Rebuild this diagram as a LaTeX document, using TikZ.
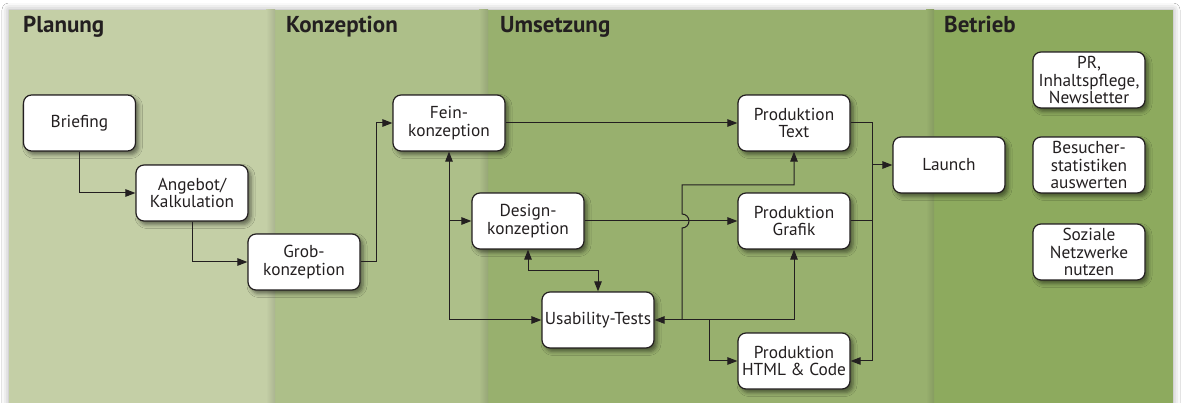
\documentclass[tikz,border=0pt]{standalone}
\usepackage{fontspec}
\setmainfont{PT Sans}
\usetikzlibrary{arrows.meta,shadows.blur,calc}
\definecolor{cPlan}{RGB}{196,207,166}
\definecolor{cKon}{RGB}{173,191,137}
\definecolor{cUms}{RGB}{152,176,110}
\definecolor{cBet}{RGB}{141,170,94}
\definecolor{ink}{RGB}{35,31,32}
\begin{document}
\begin{tikzpicture}[x=1pt,y=-1pt,
  box/.style={draw=ink, line width=1.2pt, fill=white, rounded corners=8pt,
    minimum width=112pt, minimum height=56pt, align=center, text=ink,
    font=\fontsize{17.3}{17.5}\selectfont, inner sep=2pt,
    blur shadow={shadow xshift=3pt, shadow yshift=-3.5pt, shadow blur radius=4pt, shadow opacity=50}},
  conn/.style={line width=1pt, draw=ink},
  arr/.style={-{Triangle[length=10pt,width=7.5pt]}},
  both/.style={{Triangle[length=10pt,width=7.5pt]}-{Triangle[length=10pt,width=7.5pt]}},
  title/.style={anchor=base west, text=ink, font=\bfseries\fontsize{23}{26}\selectfont, inner sep=0pt}
]
\useasboundingbox (0,0) rectangle (1181,403);
\fill[white] (0,0) rectangle (1181,403);
% panel with soft shadow
\path[fill=cPlan, blur shadow={shadow xshift=0pt, shadow yshift=0pt, shadow blur radius=7pt, shadow opacity=35}] (9,10) rectangle (1173,420);
\fill[cPlan] (9,10) rectangle (275,403);
\fill[cKon] (275,10) rectangle (488,403);
\fill[cUms] (488,10) rectangle (934,403);
\fill[cBet] (934,10) rectangle (1173,403);
% column edge shadows
\shade[left color=cPlan, right color=cPlan!87!black] (266,10) rectangle (275,403);
\shade[left color=cKon, right color=cKon!87!black] (479,10) rectangle (488,403);
\shade[left color=cUms, right color=cUms!88!black] (926,10) rectangle (934,403);
% titles
\node[title] (tPlan) at (23,33) {Planung};
\node[title] (tKon) at (286,33) {Konzeption};
\node[title] (tUms) at (500,33) {Umsetzung};
\node[title] (tBet) at (944,33) {Betrieb};
% boxes
\node[box] (brief) at (79.5,123) {Briefing};
\node[box] (angebot) at (192,193) {Angebot/\\Kalkulation};
\node[box] (grob) at (304,262) {Grob-\\konzeption};
\node[box] (fein) at (449,123) {Fein-\\konzeption};
\node[box] (design) at (528,221) {Design-\\konzeption};
\node[box] (usab) at (598,320) {Usability-Tests};
\node[box] (ptext) at (794,123) {Produktion\\Text};
\node[box] (pgraf) at (794,221) {Produktion\\Grafik};
\node[box] (phtml) at (794,361) {Produktion\\HTML \& Code};
\node[box] (launch) at (949,165) {Launch};
\node[box] (pr) at (1089,80) {PR,\\Inhaltspflege,\\Newsletter};
\node[box] (besuch) at (1089,165) {Besucher-\\statistiken\\auswerten};
\node[box] (sozial) at (1089,252) {Soziale\\Netzwerke\\nutzen};
% connectors
\draw[conn,arr] (brief.south) |- (angebot.west);
\draw[conn,arr] (angebot.south) |- (grob.west);
\draw[conn,arr] (grob.east) -- ++(16,0) |- (fein.west);
\draw[conn,arr] (fein.east) -- (ptext.west);
\draw[conn,both] (fein.south) |- (usab.west);
\draw[conn,arr] (fein.south |- design.west) -- (design.west);
\draw[conn,both] (design.south) -- ++(0,21) -| (usab.north);
\draw[conn,arr] (design.east) -- (pgraf.west);
\draw[conn,both] (usab.east) -| (pgraf.south);
\coordinate (hop) at (682,221);
\draw[conn,arr] (usab.east -| hop) -- ($(hop)+(0,7)$) arc[start angle=-90,end angle=90,radius=7pt] -- ($(hop)+(0,-36)$) -| (ptext.south);
\draw[conn,arr] ($(usab.east)+(55,0)$) |- (phtml.west);
\coordinate (bus) at (872,165);
\draw[conn,arr] (ptext.east) -| (bus |- phtml.east) -- (phtml.east);
\draw[conn] (pgraf.east) -- (pgraf.east -| bus);
\draw[conn,arr] (bus |- launch.west) -- (launch.west);
\end{tikzpicture}
\end{document}
